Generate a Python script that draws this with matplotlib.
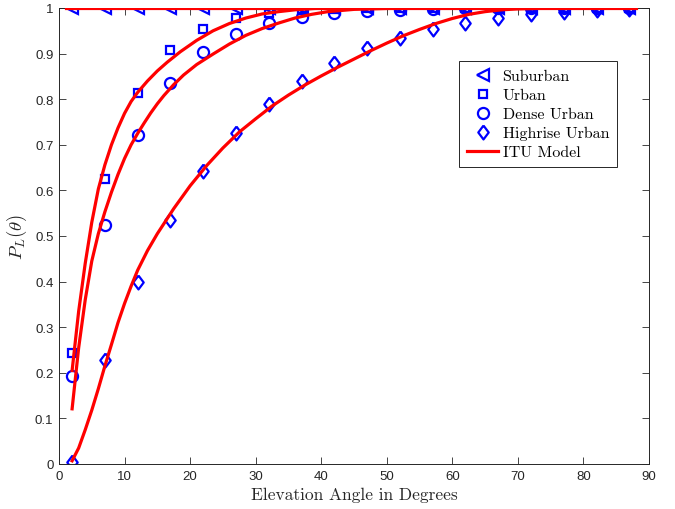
import matplotlib
matplotlib.use("Agg")
import matplotlib.pyplot as plt
from matplotlib.lines import Line2D

plt.rcParams['mathtext.fontset'] = 'cm'
plt.rcParams['font.family'] = ['Liberation Sans', 'DejaVu Sans']

# simulated points, elevation angle in degrees
elev = [2, 7, 12, 17, 22, 27, 32, 37, 42, 47, 52, 57, 62, 67, 72, 77, 82, 87]
suburban = [1.0, 1.0, 1.0, 1.0, 1.0, 1.0, 1.0, 1.0, 1.0, 1.0,
            1.0, 1.0, 1.0, 1.0, 1.0, 1.0, 1.0, 1.0]
urban = [0.243, 0.625, 0.813, 0.907, 0.954, 0.978, 0.99, 0.995, 0.998, 0.999,
         1.0, 1.0, 1.0, 1.0, 1.0, 1.0, 1.0, 1.0]
dense_urban = [0.193, 0.524, 0.721, 0.836, 0.904, 0.944, 0.967, 0.981, 0.99, 0.994,
               0.996, 0.998, 0.999, 1.0, 1.0, 1.0, 1.0, 1.0]
highrise = [0.005, 0.227, 0.399, 0.535, 0.642, 0.725, 0.79, 0.841, 0.88, 0.912,
            0.935, 0.954, 0.968, 0.979, 0.986, 0.992, 0.996, 0.998]

# ITU model curves
itu_sub_x = [1, 20, 40, 60, 88]
itu_sub_y = [1.0, 1.0, 1.0, 1.0, 1.0]

itu_urb_x = [2, 3, 4, 5, 6, 7, 8, 9, 10, 11, 12, 13.5, 15, 16.5, 18.5, 21, 23.5,
             26, 28.5, 31, 33.5, 36, 39, 42, 50, 60, 70, 80, 88]
itu_urb_y = [0.205, 0.335, 0.44, 0.53, 0.603, 0.656, 0.70, 0.737, 0.769, 0.795,
             0.815, 0.84, 0.862, 0.881, 0.904, 0.929, 0.95, 0.966, 0.978, 0.987,
             0.992, 0.996, 0.999, 1.0, 1.0, 1.0, 1.0, 1.0, 1.0]

itu_den_x = [2, 3, 4, 5, 6, 7, 8, 9, 10, 11, 12, 13, 14, 15, 16, 17.5, 19, 21,
             23.5, 26, 28.5, 31, 33.5, 36, 38.5, 41, 45, 50, 55, 60, 70, 80, 88]
itu_den_y = [0.121, 0.255, 0.36, 0.445, 0.505, 0.553, 0.596, 0.635, 0.67, 0.70,
             0.725, 0.748, 0.77, 0.79, 0.808, 0.832, 0.853, 0.876, 0.899, 0.921,
             0.94, 0.955, 0.967, 0.978, 0.986, 0.992, 0.997, 0.999, 1.0, 1.0,
             1.0, 1.0, 1.0]

itu_hr_x = [2, 3, 4, 5, 6, 7, 8, 9, 10, 11, 12, 13.5, 15, 17.5, 20, 22.5, 25, 27.5,
            30, 32.5, 35, 37.5, 40, 42.5, 45, 47.5, 50, 52.5, 55, 57.5, 60, 62.5,
            65, 67.5, 70, 75, 80, 88]
itu_hr_y = [0.007, 0.035, 0.075, 0.118, 0.165, 0.215, 0.262, 0.31, 0.352, 0.39,
            0.425, 0.468, 0.505, 0.56, 0.61, 0.654, 0.693, 0.728, 0.757, 0.785,
            0.809, 0.831, 0.851, 0.87, 0.888, 0.906, 0.923, 0.939, 0.953, 0.966,
            0.977, 0.986, 0.992, 0.996, 0.998, 1.0, 1.0, 1.0]

xticks = [0, 10, 20, 30, 40, 50, 60, 70, 80, 90]
yticks = [0, 0.1, 0.2, 0.3, 0.4, 0.5, 0.6, 0.7, 0.8, 0.9, 1]
ytick_labels = ['0', '0.1', '0.2', '0.3', '0.4', '0.5', '0.6', '0.7', '0.8', '0.9', '1']

blue = '#0000ff'
red = '#ff0000'
dark = '#262626'

# slightly wider than matplotlib's thin diamond
diamond = [(0, 1), (0.75, 0), (0, -1), (-0.75, 0), (0, 1)]

fig = plt.figure(figsize=(6.75, 5.1), dpi=100)
ax = fig.add_axes([59 / 675, 45 / 510, 590 / 675, 456 / 510])

mk = dict(linestyle='none', markerfacecolor='none', markeredgecolor=blue,
          markeredgewidth=1.6, zorder=2)
ax.plot(elev, suburban, marker='<', markersize=8.5, **mk)
ax.plot(elev, urban, marker='s', markersize=6, **mk)
ax.plot(elev, dense_urban, marker='o', markersize=8, **mk)
ax.plot(elev, highrise, marker=diamond, markersize=10, **mk)

lw = 2.3
ax.plot(itu_sub_x, itu_sub_y, color=red, lw=lw, zorder=3)
ax.plot(itu_urb_x, itu_urb_y, color=red, lw=lw, zorder=3)
ax.plot(itu_den_x, itu_den_y, color=red, lw=lw, zorder=3)
ax.plot(itu_hr_x, itu_hr_y, color=red, lw=lw, zorder=3)

ax.set_xlim(0, 90)
ax.set_ylim(0, 1)
ax.set_xticks(xticks)
ax.set_yticks(yticks)
ax.set_yticklabels(ytick_labels)
ax.tick_params(direction='in', length=5, width=0.6, colors=dark, labelsize=9.5,
               top=True, right=True, pad=4)
for s in ax.spines.values():
    s.set_color(dark)
    s.set_linewidth(0.7)

ax.set_xlabel('Elevation Angle in Degrees', family='cmr10', fontsize=12.5,
              color=dark, labelpad=4)
ax.set_ylabel(r'$P_L(\theta)$', fontsize=13.5, color=dark, labelpad=4)

handles = [
    Line2D([], [], marker='<', markersize=8.5, **mk),
    Line2D([], [], marker='s', markersize=6, **mk),
    Line2D([], [], marker='o', markersize=8, **mk),
    Line2D([], [], marker=diamond, markersize=10, **mk),
    Line2D([], [], color=red, lw=lw),
]
labels = ['Suburban', 'Urban', 'Dense Urban', 'Highrise Urban', 'ITU Model']
leg = ax.legend(handles, labels, loc='upper right',
                bbox_to_anchor=(558 / 590, (465 - 62) / 456),
                prop={'family': 'cmr10', 'size': 11.5}, frameon=True,
                fancybox=False, framealpha=1, edgecolor=dark,
                borderpad=0.5, labelspacing=0.3, handlelength=1.9,
                handletextpad=0.3, borderaxespad=0)
leg.get_frame().set_linewidth(0.7)

fig.savefig('out.png', dpi=100)
